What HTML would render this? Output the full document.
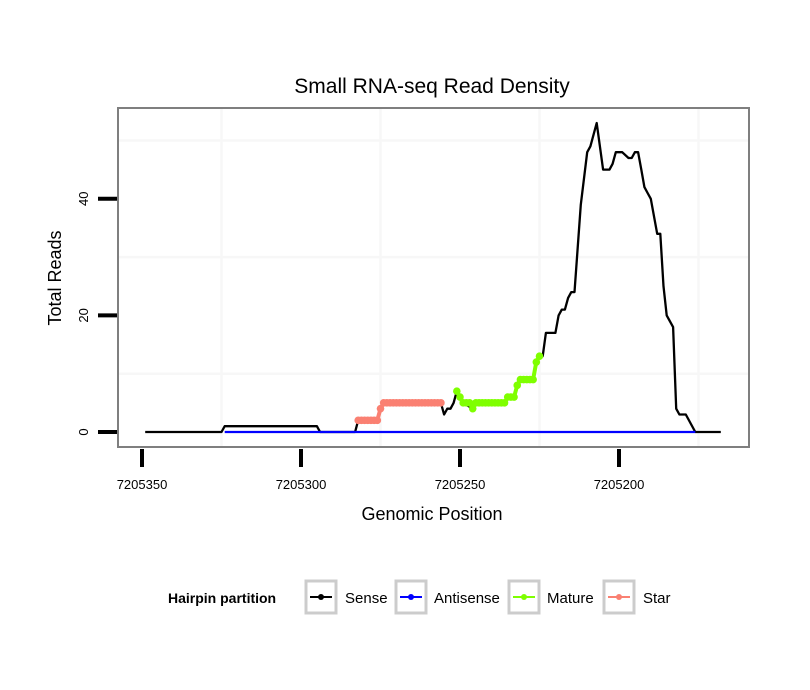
<!DOCTYPE html>
<html><head><meta charset="utf-8"><style>
body{margin:0;background:#fff;}
svg{display:block;font-family:"Liberation Sans",sans-serif;}
</style></head><body>
<svg id="chart" width="810" height="690" viewBox="0 0 810 690">
<rect x="0" y="0" width="810" height="690" fill="#fff"/>
<text x="432" y="93" text-anchor="middle" font-size="21" fill="#000">Small RNA-seq Read Density</text>
<g id="grid"></g>
<g id="series"></g>
<rect x="118" y="108" width="631" height="339" fill="none" stroke="#7f7f7f" stroke-width="2"/>
<g id="axes"></g>
<text x="432" y="520" text-anchor="middle" font-size="18">Genomic Position</text>
<text transform="translate(61,278) rotate(-90)" text-anchor="middle" font-size="18">Total Reads</text>
<g>
<text x="168" y="603" font-size="14" font-weight="bold">Hairpin partition</text>
<g>
<rect x="306" y="581" width="30" height="32" fill="#fff" stroke="#ccc" stroke-width="3"/>
<line x1="310" y1="597" x2="332" y2="597" stroke="#000" stroke-width="2"/><circle cx="321" cy="597" r="3" fill="#000"/>
<text x="345" y="603" font-size="15">Sense</text></g>
<g>
<rect x="396" y="581" width="30" height="32" fill="#fff" stroke="#ccc" stroke-width="3"/>
<line x1="400" y1="597" x2="422" y2="597" stroke="#0000ff" stroke-width="2"/><circle cx="411" cy="597" r="3" fill="#0000ff"/>
<text x="434" y="603" font-size="15">Antisense</text></g>
<g>
<rect x="509" y="581" width="30" height="32" fill="#fff" stroke="#ccc" stroke-width="3"/>
<line x1="513" y1="597" x2="535" y2="597" stroke="#7fff00" stroke-width="2"/><circle cx="524" cy="597" r="3" fill="#7fff00"/>
<text x="547" y="603" font-size="15">Mature</text></g>
<g>
<rect x="604" y="581" width="30" height="32" fill="#fff" stroke="#ccc" stroke-width="3"/>
<line x1="608" y1="597" x2="630" y2="597" stroke="#fa8072" stroke-width="2"/><circle cx="619" cy="597" r="3" fill="#fa8072"/>
<text x="643" y="603" font-size="15">Star</text></g>
</g>
</svg>
<script>
const xTicks = [7205350, 7205300, 7205250, 7205200];
const xMinor = [7205325, 7205275, 7205225, 7205175];
const yTicks = [0, 20, 40];
const yMinor = [10, 30, 50];
const sensePos = [7205349,7205325,7205324,7205295,7205294,7205283,7205282,7205276,7205275,7205274,7205256,7205255,7205254,7205253,7205252,7205251,7205250,7205249,7205246,7205245,7205236,7205235,7205233,7205232,7205231,7205227,7205226,7205225,7205224,7205223,7205220,7205219,7205218,7205217,7205216,7205215,7205214,7205212,7205210,7205209,7205207,7205205,7205203,7205202,7205201,7205199,7205197,7205196,7205195,7205194,7205193,7205192,7205191,7205190,7205188,7205187,7205186,7205185,7205183,7205182,7205181,7205179,7205176,7205168];
const senseVal = [0,0,1,1,0,0,2,2,4,5,5,3,4,4,5,7,6,5,4,5,5,6,6,8,9,9,12,13,13,17,17,20,21,21,23,24,24,39,48,49,53,45,45,46,48,48,47,47,48,48,45,42,41,40,34,34,25,20,18,4,3,3,0,0];
const antiPos = [7205324, 7205176];
const antiVal = [0, 0];
const starPos = [7205282,7205281,7205280,7205279,7205278,7205277,7205276,7205275,7205274,7205273,7205272,7205271,7205270,7205269,7205268,7205267,7205266,7205265,7205264,7205263,7205262,7205261,7205260,7205259,7205258,7205257,7205256];
const starVal = [2,2,2,2,2,2,2,4,5,5,5,5,5,5,5,5,5,5,5,5,5,5,5,5,5,5,5];
const maturePos = [7205251,7205250,7205249,7205248,7205247,7205246,7205245,7205244,7205243,7205242,7205241,7205240,7205239,7205238,7205237,7205236,7205235,7205234,7205233,7205232,7205231,7205230,7205229,7205228,7205227,7205226,7205225];
const matureVal = [7,6,5,5,5,4,5,5,5,5,5,5,5,5,5,5,6,6,6,8,9,9,9,9,9,12,13];

const xs = p => 142 + (7205350 - p) * 3.18;
const ys = v => 432 - v * 5.83;
const NS = 'http://www.w3.org/2000/svg';
function mk(tag, attrs, parent){const e=document.createElementNS(NS,tag);for(const k in attrs)e.setAttribute(k,attrs[k]);parent.appendChild(e);return e;}
const grid=document.getElementById('grid'), series=document.getElementById('series'), axes=document.getElementById('axes');
xMinor.forEach(p=>{const x=xs(p);if(x>118&&x<749){const l=mk('line',{x1:x,x2:x,y1:109,y2:446,stroke:'#f7f7f7','stroke-width':2.5},grid);

}});
yMinor.forEach(v=>{const y=ys(v);const l=mk('line',{x1:119,x2:748,y1:y,y2:y,stroke:'#f7f7f7','stroke-width':2.5},grid);

});
function line(pos,val,color,name,w){const pts=pos.map((p,i)=>xs(p).toFixed(1)+','+ys(val[i]).toFixed(1)).join(' ');
const e=mk('polyline',{points:pts,fill:'none',stroke:color,'stroke-width':w,'stroke-linejoin':'round'},series);

}
function pts(pos,val,color,name){pos.forEach((p,i)=>{const c=mk('circle',{cx:xs(p),cy:ys(val[i]),r:3.8,fill:color},series);

});}
line(sensePos,senseVal,'#000','sense-line',2.3);
line(antiPos,antiVal,'#0000ff','antisense-line',2.3);
line(starPos,starVal,'#fa8072','star-line',4);
pts(starPos,starVal,'#fa8072','star-point');
line(maturePos,matureVal,'#7fff00','mature-line',4);
pts(maturePos,matureVal,'#7fff00','mature-point');
xTicks.forEach(p=>{const x=xs(p);const t=mk('line',{x1:x,x2:x,y1:449,y2:467,stroke:'#000','stroke-width':4},axes);


const tx=mk('text',{x:x,y:489,'text-anchor':'middle','font-size':13},axes);tx.textContent=p;

});
yTicks.forEach(v=>{const y=ys(v);const t=mk('line',{x1:98,x2:117,y1:y,y2:y,stroke:'#000','stroke-width':4},axes);


const tx=mk('text',{transform:`translate(88,${y}) rotate(-90)`,'text-anchor':'middle','font-size':13},axes);tx.textContent=v;

});
</script>
</body></html>
